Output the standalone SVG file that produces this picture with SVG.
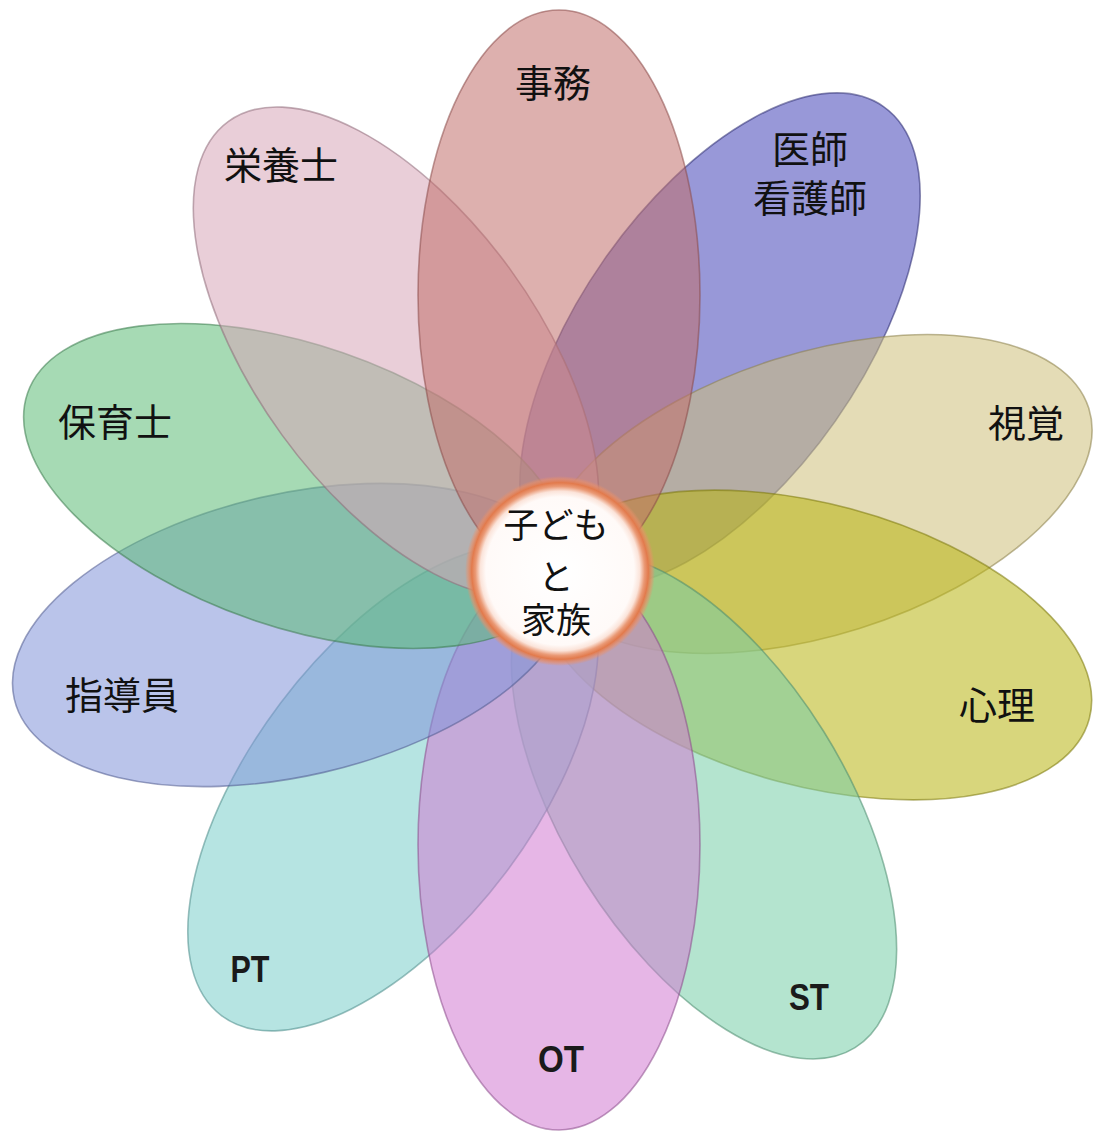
<svg xmlns="http://www.w3.org/2000/svg" width="1094" height="1136" viewBox="0 0 1094 1136">
  <defs>
    <style>
      .petal { stroke-width: 1.6; fill-opacity: 0.55; stroke-opacity: 0.55; }
      .jp { font-family: 'Noto Sans CJK JP', 'Noto Sans CJK SC', sans-serif; font-size: 38px; fill: #111; text-anchor: middle; dominant-baseline: central; }
      .en { font-family: 'Liberation Sans', 'Noto Sans', sans-serif; font-weight: bold; font-size: 36px; fill: #1a1a1a; text-anchor: middle; }
      .ctr { font-size: 35px; }
    </style>
    <radialGradient id="core" cx="0.5" cy="0.5" r="0.5">
      <stop offset="0" stop-color="#ffffff"/>
      <stop offset="0.78" stop-color="#fffaf8"/>
      <stop offset="0.84" stop-color="#fbe4da"/>
      <stop offset="0.89" stop-color="#ea9a76"/>
      <stop offset="0.93" stop-color="#e27a4c"/>
      <stop offset="0.97" stop-color="#e98f68" stop-opacity="0.6"/>
      <stop offset="1" stop-color="#e98f68" stop-opacity="0"/>
    </radialGradient>
  </defs>
  <rect width="1094" height="1136" fill="#ffffff"/>

  <g id="node-ishi">
    <ellipse class="petal" rx="141" ry="285" transform="translate(720 340) rotate(35)" fill="#4444B8" stroke="#2a2a70"/>
    <text class="jp" x="810" y="146">医師</text>
    <text class="jp" x="810" y="195">看護師</text>
  </g>
  <g id="node-shikaku">
    <ellipse class="petal" rx="141" ry="285" transform="translate(817 494) rotate(72.5)" fill="#CEBF7A" stroke="#8a7f4a"/>
    <text class="jp" x="1026" y="420">視覚</text>
  </g>
  <g id="node-shinri">
    <ellipse class="petal" rx="141" ry="285" transform="translate(814 645) rotate(105)" fill="#B8B411" stroke="#7a770a"/>
    <text class="jp" x="997" y="702">心理</text>
  </g>
  <g id="node-st">
    <ellipse class="petal" rx="141" ry="285" transform="translate(704 806) rotate(148)" fill="#76CEA8" stroke="#4a8a6e"/>
    <text class="en" x="809" y="1010" textLength="40" lengthAdjust="spacingAndGlyphs">ST</text>
  </g>
  <g id="node-pt">
    <ellipse class="petal" rx="141" ry="285" transform="translate(393 788) rotate(217)" fill="#7ACECA" stroke="#4a8a88"/>
    <text class="en" x="250" y="982" textLength="39" lengthAdjust="spacingAndGlyphs">PT</text>
  </g>
  <g id="node-ot">
    <ellipse class="petal" rx="141" ry="285" transform="translate(559 845) rotate(180)" fill="#D17AD1" stroke="#8a4a8a"/>
    <text class="en" x="561" y="1072" textLength="46" lengthAdjust="spacingAndGlyphs">OT</text>
  </g>
  <g id="node-shidouin">
    <ellipse class="petal" rx="141" ry="285" transform="translate(292 635) rotate(257)" fill="#8294D9" stroke="#4e5a8e"/>
    <text class="jp" x="122" y="692">指導員</text>
  </g>
  <g id="node-hoikushi">
    <ellipse class="petal" rx="141" ry="285" transform="translate(297 486) rotate(289)" fill="#5DBC77" stroke="#3a7a4c"/>
    <text class="jp" x="115" y="419">保育士</text>
  </g>
  <g id="node-eiyoushi">
    <ellipse class="petal" rx="141" ry="285" transform="translate(396 352) rotate(-36)" fill="#D7A6B8" stroke="#8e6a78"/>
    <text class="jp" x="281" y="162">栄養士</text>
  </g>
  <g id="node-jimu">
    <ellipse class="petal" rx="141" ry="285" transform="translate(559 295)" fill="#C16F6C" stroke="#8a4a48"/>
    <text class="jp" x="553" y="80">事務</text>
  </g>

  <g id="node-center">
    <circle cx="560" cy="571" r="95" fill="url(#core)"/>
    <text class="jp ctr" x="556" y="522">子ども</text>
    <text class="jp ctr" x="556" y="574">と</text>
    <text class="jp ctr" x="556" y="617">家族</text>
  </g>

  <g id="connectors"/>
</svg>
